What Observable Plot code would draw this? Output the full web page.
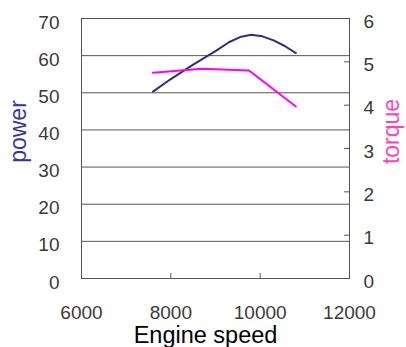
<!DOCTYPE html>
<html>
<head>
<meta charset="utf-8">
<script src="https://cdn.jsdelivr.net/npm/d3@7"></script>
<script src="https://cdn.jsdelivr.net/npm/@observablehq/plot@0.6"></script>
<style>
  html, body { margin: 0; padding: 0; background: #fff; }
  #chart svg { display: block; }
</style>
</head>
<body>
<div id="chart"></div>
<script>
// Data
const powerSpeed = [7600, 8000, 8500, 9000, 9300, 9550, 9800, 10050, 10300, 10550, 10800];
const powerValues = [50.3, 53.7, 57.6, 61.2, 63.6, 65.0, 65.6, 65.2, 64.1, 62.6, 60.7];
const torqueSpeed = [7600, 8700, 9750, 10800];
const torqueValues = [4.75, 4.84, 4.80, 3.97];
const xTicks = [6000, 8000, 10000, 12000];
const xInnerTicks = [8000, 10000];
const powerTicks = [0, 10, 20, 30, 40, 50, 60, 70];
const torqueTicks = [0, 1, 2, 3, 4, 5, 6];
const powerMax = 70, torqueMax = 6;
const k = powerMax / torqueMax;

const powerData = powerSpeed.map((s, i) => ({speed: s, value: powerValues[i]}));
const torqueData = torqueSpeed.map((s, i) => ({speed: s, value: torqueValues[i] * k}));

const gridColor = "#55554f";
const font = "Liberation Sans, Arial, sans-serif";

const chart = Plot.plot({
  width: 406,
  height: 347,
  marginLeft: 81,
  marginRight: 57,
  marginTop: 18,
  marginBottom: 69,
  style: {fontFamily: font, background: "#fff", overflow: "visible"},
  x: {domain: [6000, 12000]},
  y: {domain: [0, powerMax]},
  marks: [
    Plot.ruleY(powerTicks, {stroke: gridColor, strokeWidth: 1}),
    Plot.ruleX([6000, 12000], {stroke: gridColor, strokeWidth: 1}),
    // left labels
    Plot.axisY({anchor: "left", ticks: powerTicks, tickSize: 0, tickPadding: 22, dy: 4,
      fontSize: 19, fill: "#3a3a3a", stroke: "none", label: null}),
    // right ticks (inward)
    Plot.axisY({anchor: "right", ticks: torqueTicks.map(t => t * k), tickSize: 6, insetRight: 6,
      stroke: gridColor, fill: "none", label: null}),
    // right labels
    Plot.axisY({anchor: "right", ticks: torqueTicks.map(t => t * k), tickFormat: d => String(Math.round(d / k)),
      tickSize: 0, tickPadding: 14, dy: 3, fontSize: 19, fill: "#3a3a3a", stroke: "none", label: null}),
    // x inner ticks
    Plot.axisX({anchor: "bottom", ticks: xInnerTicks, tickSize: 5, insetBottom: 5,
      stroke: gridColor, fill: "none", label: null}),
    // x labels
    Plot.axisX({anchor: "bottom", ticks: xTicks, tickFormat: d => String(d), tickSize: 0, tickPadding: 27,
      fontSize: 19, fill: "#3a3a3a", stroke: "none", label: null}),
    Plot.line(powerData, {x: "speed", y: "value", stroke: "#2e2e80", strokeWidth: 2}),
    Plot.line(torqueData, {x: "speed", y: "value", stroke: "#ff00ff", strokeWidth: 2}),
    Plot.text(["Engine speed"], {frameAnchor: "bottom", lineAnchor: "middle", textAnchor: "middle",
      dy: 57, dx: -10, fontSize: 23.5, fill: "#000"}),
    Plot.text(["power"], {frameAnchor: "left", textAnchor: "middle", lineAnchor: "middle",
      dx: -63, dy: -17, rotate: -90, fontSize: 23, fill: "#3333aa"}),
    Plot.text(["torque"], {frameAnchor: "right", textAnchor: "middle", lineAnchor: "middle",
      dx: 42, dy: -17, rotate: -90, fontSize: 23, fill: "#ff3fbf"})
  ]
});
document.getElementById("chart").appendChild(chart);
</script>
</body>
</html>
